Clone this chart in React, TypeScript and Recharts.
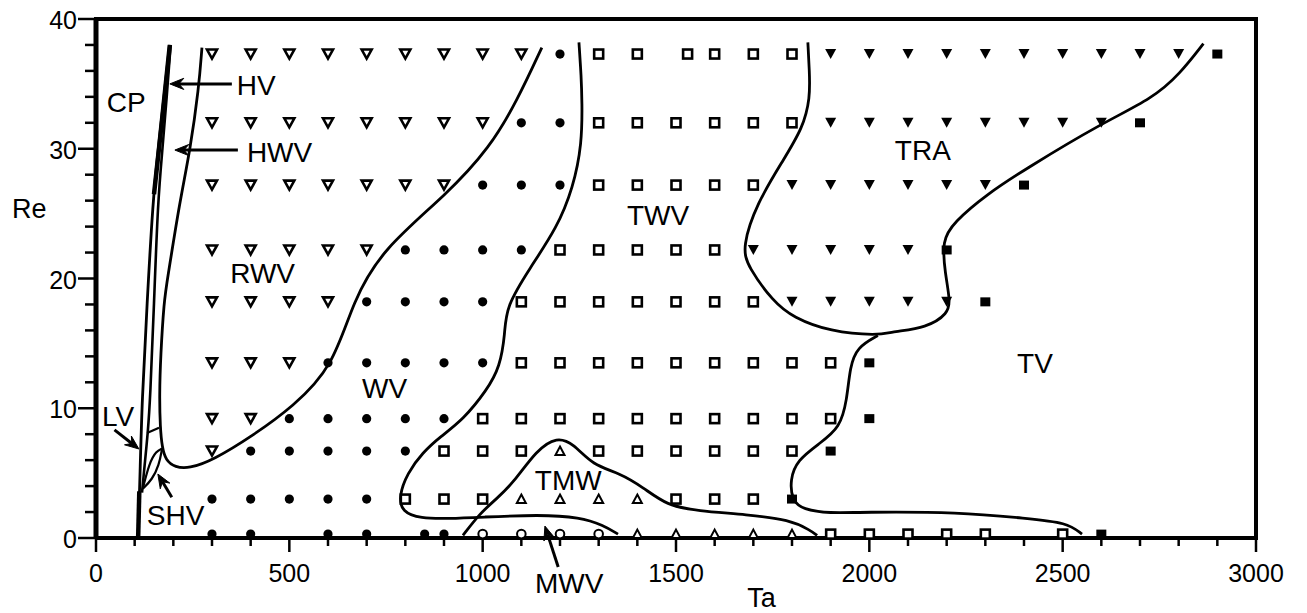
import React from 'react';
import { ScatterChart, Scatter, XAxis, YAxis, ReferenceLine } from 'recharts';

const FONT = '"Liberation Sans", Arial, Helvetica, sans-serif';

// Re of each row of runs (top to bottom)
const reRows = [37.3, 32.0, 27.2, 22.2, 18.2, 13.5, 9.2, 6.7, 3.0, 0.3];

// Ta of each run, one list per row, by flow state
const rwvTa = [
  [300, 400, 500, 600, 700, 800, 900, 1000, 1100],
  [300, 400, 500, 600, 700, 800, 900, 1000],
  [300, 400, 500, 600, 700, 800, 900],
  [300, 400, 500, 600, 700],
  [300, 400, 500, 600],
  [300, 400, 500],
  [300, 400],
  [300],
  [],
  [],
];
const wvTa = [
  [1200],
  [1100, 1200],
  [1000, 1100, 1200],
  [800, 900, 1000, 1100],
  [700, 800, 900, 1000],
  [600, 700, 800, 900, 1000],
  [500, 600, 700, 800, 900],
  [400, 500, 600, 700, 800],
  [300, 400, 500, 600, 700],
  [300, 400, 600, 700, 850, 900],
];
const twvTa = [
  [1300, 1400, 1530, 1600, 1700, 1800],
  [1300, 1400, 1500, 1600, 1700, 1800],
  [1300, 1400, 1500, 1600, 1700],
  [1200, 1300, 1400, 1500, 1600],
  [1100, 1200, 1300, 1400, 1500, 1600, 1700],
  [1100, 1200, 1300, 1400, 1500, 1600, 1700, 1800, 1900],
  [1000, 1100, 1200, 1300, 1400, 1500, 1600, 1700, 1800, 1900],
  [900, 1000, 1100, 1300, 1400, 1500, 1600, 1700, 1800],
  [800, 900, 1000, 1500, 1600, 1700],
  [1900, 2000, 2100, 2200, 2300, 2500],
];
const tmwTa = [[], [], [], [], [], [], [], [1200], [1100, 1200, 1300, 1400], [1400, 1500, 1600, 1700, 1800]];
const mwvTa = [[], [], [], [], [], [], [], [], [], [1000, 1100, 1200, 1300]];
const traTa = [
  [1900, 2000, 2100, 2200, 2300, 2400, 2500, 2600, 2700, 2800],
  [1900, 2000, 2100, 2200, 2300, 2400, 2500, 2600],
  [1800, 1900, 2000, 2100, 2200, 2300],
  [1700, 1800, 1900, 2000, 2100],
  [1800, 1900, 2000, 2100, 2200],
  [],
  [],
  [],
  [],
  [],
];
const tvTa = [[2900], [2700], [2400], [2200], [2300], [2000], [2000], [1900], [1800], [2600]];

// regime boundaries, [Ta, Re]
const cpLeft: [number, number][] = [[109, 0], [114, 5], [119, 10.6], [132, 18], [147, 26], [161, 30], [176, 34], [190, 38]];
const cpTop: [number, number][] = [[150, 26.5], [163, 30], [177, 34], [191, 38]];
const cpBottom: [number, number][] = [[109, 0], [112, 3.6]];
const hvLine: [number, number][] = [[119, 3.5], [127, 6], [134, 8.1], [140, 10.6], [150, 18], [160, 26], [172, 30], [183, 34], [193, 38]];
const lvLink: [number, number][] = [[132, 8.1], [163, 8.5]];
const shvTop: [number, number][] = [[121, 3.8], [138, 5.8], [156, 6.7], [171, 6.9]];
const shvBottom: [number, number][] = [[121, 3.8], [145, 4.5], [163, 5.6], [171, 6.9]];
const wvEdge: [number, number][] = [
  [274, 37.8], [266, 34.7], [243, 29.8], [217, 26], [184, 19.8], [176, 18.3], [167, 14], [164, 11],
  [166, 8.5], [171, 7], [180, 6], [205, 5.45], [240, 5.35], [303, 6.0], [406, 7.9], [509, 10.1],
  [613, 13.2], [665, 18.3], [742, 22.3], [908, 26.5], [1019, 30.1], [1089, 33.7], [1153, 37.8],
];
const twvEdge: [number, number][] = [
  [1249, 38.2], [1255, 35.5], [1257, 33.7], [1257, 30.4], [1234, 27], [1192, 23.9], [1122, 20.8],
  [1060, 17.8], [1058, 15.8], [1045, 13.2], [1011, 11.4], [949, 9.1], [890, 7.8], [845, 6.6],
  [805, 5.0], [783, 3.2], [792, 2.0], [838, 1.5], [915, 1.5], [993, 1.6], [1148, 1.8], [1252, 1.6],
  [1311, 1.0], [1350, 0.3],
];
const tmwEdge: [number, number][] = [
  [949, 0.2], [993, 1.9], [1035, 3.0], [1078, 4.2], [1140, 6.8], [1192, 7.8], [1234, 7.3], [1285, 5.6],
  [1355, 5.0], [1415, 3.9], [1477, 2.5], [1554, 2.1], [1684, 1.8], [1795, 1.4], [1847, 0.6], [1865, 0.2],
];
const traEdge: [number, number][] = [
  [1841, 38.2], [1845, 36], [1847, 33.9], [1828, 31.6], [1777, 29.1], [1709, 25.8], [1671, 22.4],
  [1686, 20.9], [1752, 18.2], [1803, 17.0], [1898, 15.9], [2022, 15.6], [2061, 15.9], [2148, 16.2],
  [2204, 17.3], [2209, 18.3], [2196, 20.4], [2188, 22.9], [2217, 24.3], [2304, 26.5], [2407, 28.5],
  [2597, 31.9], [2734, 33.9], [2804, 35.8], [2864, 38.1],
];
const tvEdge: [number, number][] = [
  [2022, 15.6], [1968, 14.7], [1950, 13.2], [1942, 10.6], [1924, 8.5], [1872, 7.3], [1813, 6.0],
  [1795, 4.5], [1800, 2.9], [1828, 2.2], [1898, 1.9], [1976, 2.0], [2234, 2.0], [2408, 1.5],
  [2511, 1.2], [2550, 0.3],
];

// axis ticks
const xTicks = [0, 100, 200, 300, 400, 500, 600, 700, 800, 900, 1000, 1100, 1200, 1300, 1400, 1500,
  1600, 1700, 1800, 1900, 2000, 2100, 2200, 2300, 2400, 2500, 2600, 2700, 2800, 2900, 3000];
const xLabels = [0, 500, 1000, 1500, 2000, 2500, 3000];
const yTicks = [0, 2, 4, 6, 8, 10, 12, 14, 16, 18, 20, 22, 24, 26, 28, 30, 32, 34, 36, 38, 40];
const yLabels = [0, 10, 20, 30, 40];

// region labels and arrow callouts
const regionLabels = [
  { ta: 28, re: 32.8, text: 'CP' },
  { ta: 347, re: 19.65, text: 'RWV' },
  { ta: 688, re: 10.8, text: 'WV' },
  { ta: 1373, re: 24.1, text: 'TWV' },
  { ta: 2066, re: 29.1, text: 'TRA' },
  { ta: 2382, re: 12.7, text: 'TV' },
  { ta: 1135, re: 3.7, text: 'TMW' },
];
const axisTitles = [
  { ta: 0, re: 25, text: 'Re', dx: -84, dy: 4 },
  { ta: 1700, re: 0, text: 'Ta', dx: -6, dy: 69 },
];
const callouts = [
  { ta: 191, re: 35.0, text: 'HV', angle: 0, len: 62, dx: 67, dy: 11 },
  { ta: 204, re: 29.9, text: 'HWV', angle: 0, len: 63, dx: 72, dy: 12 },
  { ta: 111, re: 6.86, text: 'LV', angle: 218, len: 31, dx: -37, dy: -23 },
  { ta: 160, re: 4.93, text: 'SHV', angle: 59, len: 27, dx: -11, dy: 51 },
  { ta: 1161, re: 0.92, text: 'MWV', angle: 72, len: 43, dx: -10, dy: 67 },
];

const byRow = (rows: number[][]) => rows.flatMap((tas, i) => tas.map((ta) => ({ ta, re: reRows[i] })));
const toPts = (arr: [number, number][]) => arr.map(([ta, re]) => ({ ta, re }));

const OpenDown = ({ cx, cy }: any) => (
  <path d={`M${cx - 5},${cy - 4.5}L${cx + 5},${cy - 4.5}L${cx},${cy + 4.5}Z`} fill="#fff" stroke="#000" strokeWidth={2.6} />
);
const FilledDown = ({ cx, cy }: any) => (
  <path d={`M${cx - 5.5},${cy - 5}L${cx + 5.5},${cy - 5}L${cx},${cy + 5}Z`} fill="#000" />
);
const Dot = ({ cx, cy }: any) => <circle cx={cx} cy={cy} r={4.6} fill="#000" />;
const OpenSquare = ({ cx, cy }: any) => (
  <rect x={cx - 4.5} y={cy - 4.5} width={9} height={9} fill="#fff" stroke="#000" strokeWidth={2.6} />
);
const FilledSquare = ({ cx, cy }: any) => <rect x={cx - 5} y={cy - 4.5} width={10} height={9} fill="#000" />;
const OpenUp = ({ cx, cy }: any) => (
  <path d={`M${cx},${cy - 4.5}L${cx + 4.5},${cy + 4}L${cx - 4.5},${cy + 4}Z`} fill="#fff" stroke="#000" strokeWidth={2} />
);
const OpenCircle = ({ cx, cy }: any) => <circle cx={cx} cy={cy} r={4.3} fill="#fff" stroke="#000" strokeWidth={2} />;
const Blank = () => <g />;

const Label = (props: any) => {
  const { cx, cy } = props;
  const p = props.payload || props;
  return (
    <text x={cx + (p.dx || 0)} y={cy + (p.dy || 0)} fontSize={p.dx !== undefined ? 27 : 28} fontFamily={FONT} fill="#000">
      {p.text}
    </text>
  );
};

const Callout = (props: any) => {
  const { cx, cy } = props;
  const p = props.payload || props;
  const a = (p.angle * Math.PI) / 180;
  const ux = Math.cos(a);
  const uy = Math.sin(a);
  const h = 15;
  const s = 0.38;
  const b1x = cx + h * (ux * Math.cos(s) - uy * Math.sin(s));
  const b1y = cy + h * (ux * Math.sin(s) + uy * Math.cos(s));
  const b2x = cx + h * (ux * Math.cos(-s) - uy * Math.sin(-s));
  const b2y = cy + h * (ux * Math.sin(-s) + uy * Math.cos(-s));
  const nx = cx + ux * 9;
  const ny = cy + uy * 9;
  return (
    <g>
      <line x1={nx} y1={ny} x2={cx + ux * p.len} y2={cy + uy * p.len} stroke="#000" strokeWidth={3} />
      <path d={`M${cx},${cy}L${b1x},${b1y}L${nx},${ny}L${b2x},${b2y}Z`} fill="#000" stroke="#000" strokeWidth={1} />
      <text x={cx + p.dx} y={cy + p.dy} fontSize={28} fontFamily={FONT} fill="#000">
        {p.text}
      </text>
    </g>
  );
};

const XTick = (props: any) => {
  const { x, y, payload } = props;
  const major = xLabels.includes(payload.value);
  return (
    <g>
      <line x1={x} x2={x} y1={y} y2={y + (major ? 14 : 8)} stroke="#000" strokeWidth={2.5} />
      {major && (
        <text x={x} y={y + 44} textAnchor="middle" fontSize={25} fontFamily={FONT} fill="#000">
          {payload.value}
        </text>
      )}
    </g>
  );
};

const YTick = (props: any) => {
  const { x, y, payload } = props;
  const major = yLabels.includes(payload.value);
  return (
    <g>
      <line x1={x - (major ? 18 : 11)} x2={x} y1={y} y2={y} stroke="#000" strokeWidth={2.5} />
      {major && (
        <text x={x - 19} y={y + 10} textAnchor="end" fontSize={25} fontFamily={FONT} fill="#000">
          {payload.value}
        </text>
      )}
    </g>
  );
};

const curves = [
  { data: cpLeft, w: 2.8 },
  { data: cpTop, w: 4.5 },
  { data: cpBottom, w: 4.5 },
  { data: hvLine, w: 2.6 },
  { data: lvLink, w: 2.2 },
  { data: shvTop, w: 2.2 },
  { data: shvBottom, w: 2.2 },
  { data: wvEdge, w: 2.8 },
  { data: twvEdge, w: 2.8 },
  { data: tmwEdge, w: 2.8 },
  { data: traEdge, w: 2.8 },
  { data: tvEdge, w: 2.8 },
];

const markers = [
  { rows: rwvTa, shape: OpenDown },
  { rows: wvTa, shape: Dot },
  { rows: twvTa, shape: OpenSquare },
  { rows: tmwTa, shape: OpenUp },
  { rows: mwvTa, shape: OpenCircle },
  { rows: traTa, shape: FilledDown },
  { rows: tvTa, shape: FilledSquare },
];

export default function App() {
  return (
    <div style={{ position: 'absolute', left: 0, top: 0, background: '#fff' }}>
      <ScatterChart width={1307} height={613} margin={{ top: 19, right: 51, bottom: 0, left: 0 }}>
        <XAxis
          type="number"
          dataKey="ta"
          domain={[0, 3000]}
          ticks={xTicks}
          interval={0}
          tick={XTick}
          tickSize={0}
          tickMargin={0}
          tickLine={false}
          axisLine={{ stroke: '#000', strokeWidth: 4 }}
          height={75}
        />
        <YAxis
          type="number"
          dataKey="re"
          domain={[0, 40]}
          ticks={yTicks}
          interval={0}
          tick={YTick}
          tickSize={0}
          tickMargin={0}
          tickLine={false}
          axisLine={{ stroke: '#000', strokeWidth: 5 }}
          width={96}
        />
        <ReferenceLine y={40} stroke="#000" strokeWidth={4} strokeLinecap="square" />
        <ReferenceLine x={3000} stroke="#000" strokeWidth={4} strokeLinecap="square" />
        {curves.map((c, i) => (
          <Scatter
            key={`c${i}`}
            data={toPts(c.data)}
            line={{ stroke: '#000', strokeWidth: c.w, fill: 'none' }}
            lineJointType="basis"
            shape={Blank}
            isAnimationActive={false}
          />
        ))}
        {markers.map((m, i) => (
          <Scatter key={`m${i}`} data={byRow(m.rows)} shape={m.shape} isAnimationActive={false} />
        ))}
        <Scatter data={regionLabels} shape={Label} isAnimationActive={false} />
        <Scatter data={axisTitles} shape={Label} isAnimationActive={false} />
        <Scatter data={callouts} shape={Callout} isAnimationActive={false} />
      </ScatterChart>
    </div>
  );
}
